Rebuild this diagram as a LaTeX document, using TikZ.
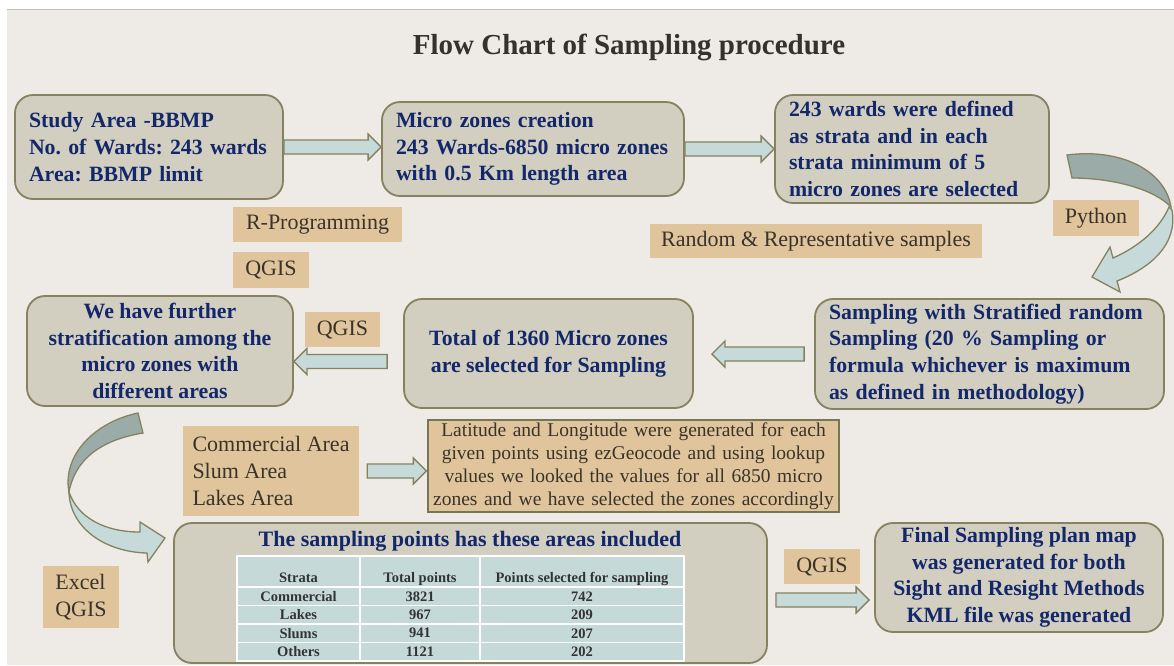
\documentclass[tikz,border=0pt]{standalone}
\usepackage{fontspec}
\setmainfont{Liberation Serif}
\frenchspacing
\usetikzlibrary{calc}
\definecolor{bgc}{HTML}{EEEBE6}
\definecolor{boxfill}{HTML}{D2CEC0}
\definecolor{boxline}{HTML}{858260}
\definecolor{navy}{HTML}{13286B}
\definecolor{tan}{HTML}{E0C59C}
\definecolor{tantext}{HTML}{3A332A}
\definecolor{arrowfill}{HTML}{C5DAD9}
\definecolor{arrowdark}{HTML}{9BACA8}
\definecolor{cellfill}{HTML}{C5D9D8}
\definecolor{titlec}{HTML}{35322B}
\newcommand{\fatarrow}[2]{%
  \filldraw[blockarrow] let \p1=(#1), \p2=(#2), \n1={ifthenelse(\x2>\x1,13,-13)} in
    (\x1,\y1+7pt) -- ({\x2-(\n1)},\y1+7pt) -- ({\x2-(\n1)},\y1+13pt) -- (\x2,\y1)
    -- ({\x2-(\n1)},\y1-13pt) -- ({\x2-(\n1)},\y1-7pt) -- (\x1,\y1-7pt) -- cycle;}
\begin{document}
\begin{tikzpicture}[x=1pt,y=-1pt,
    procbox/.style={draw=boxline,fill=boxfill,line width=1.8pt,rounded corners=18pt,
      text=navy,font=\bfseries\fontsize{21.8}{26.6}\selectfont,inner ysep=0pt},
    toolbox/.style={fill=tan,text=tantext,font=\fontsize{22}{27}\selectfont,inner sep=0pt},
    blockarrow/.style={fill=arrowfill,draw=boxline,line width=1.3pt},
    curvedark/.style={fill=arrowdark,draw=boxline,line width=1.3pt},
    curvelight/.style={fill=arrowfill,draw=boxline,line width=1.3pt},
    cell/.style={fill=cellfill,draw=white,line width=1.5pt,inner sep=0pt,minimum height=18.5pt,
      text=black!80,font=\bfseries\fontsize{14.5}{16}\selectfont}]
    \useasboundingbox (0,0) rectangle (1174,665);
    \fill[white] (0,0) rectangle (1174,665);
    \fill[bgc] (7,9) rectangle (1174,665);
    \draw[black!25] (7,9) -- (1174,9);
    \node[font=\bfseries\fontsize{29}{34}\selectfont,text=titlec] (title) at (629,47) {Flow Chart of Sampling procedure};

    \node[procbox,align=left,text width=240pt,inner xsep=14pt,minimum height=104pt] (studyarea) at (149,147)
      {Study Area -BBMP\\No. of Wards: 243 wards\\Area: BBMP limit};
    \node[procbox,align=left,text width=274pt,inner xsep=14pt,minimum height=94pt] (microzones) at (533,149)
      {Micro zones creation\\243 Wards-6850 micro zones\\with 0.5 Km length area};
    \node[procbox,align=left,text width=246pt,inner xsep=14pt,minimum height=108pt] (strata) at (912,149)
      {243 wards were defined\\as strata and in each\\strata minimum of 5\\micro zones are selected};
    \node[procbox,align=left,text width=321pt,inner xsep=14pt,minimum height=110pt] (sampling) at (989.5,354)
      {Sampling with Stratified random\\Sampling (20 \% Sampling or\\formula whichever is maximum\\as defined in methodology)};
    \node[procbox,align=center,minimum width=289pt,minimum height=109pt] (total) at (548.5,353.5)
      {Total of 1360 Micro zones\\are selected for Sampling};
    \node[procbox,align=center,minimum width=266pt,minimum height=110pt] (further) at (160,351)
      {We have further\\stratification among the\\micro zones with\\different areas};
    \node[procbox,minimum width=593pt,minimum height=140pt] (points) at (470.5,593) {};
    \node[text=navy,font=\bfseries\fontsize{22}{26}\selectfont] (pointstitle) at (470,541)
      {The sampling points has these areas included};
    \node[procbox,align=center,minimum width=288pt,minimum height=109pt] (final) at (1019,577.5)
      {Final Sampling plan map\\was generated for both\\Sight and Resight Methods\\KML file was generated};

    \node[toolbox,minimum width=169pt,minimum height=35pt] (rprog) at (317.5,224.5) {R-Programming};
    \node[toolbox,minimum width=76pt,minimum height=36pt] (qgisa) at (271,270) {QGIS};
    \node[toolbox,minimum width=332pt,minimum height=34pt] (random) at (816,241) {Random \& Representative samples};
    \node[toolbox,minimum width=86pt,minimum height=36pt] (python) at (1096,218) {Python};
    \node[toolbox,minimum width=75pt,minimum height=35pt] (qgisb) at (342.5,329.5) {QGIS};
    \node[toolbox,align=left,minimum width=176pt,minimum height=90pt] (areas) at (271,471)
      {Commercial Area\\Slum Area\\Lakes Area};
    \node[toolbox,align=left,minimum width=76pt,minimum height=62pt] (excel) at (81,597)
      {Excel\\QGIS};
    \node[toolbox,minimum width=76pt,minimum height=35pt] (qgisc) at (822,566.5) {QGIS};
    \node[fill=tan,draw=boxline!90!black,line width=1.3pt,text=tantext,align=center,inner xsep=0pt,
      text width=411pt,inner ysep=0pt,minimum height=92pt,font=\fontsize{19.5}{23}\selectfont] (latlong) at (633.5,466)
      {Latitude and Longitude were generated for each\\given points using ezGeocode and using lookup\\values we looked the values for all 6850 micro\\zones and we have selected the zones accordingly};

    \node[cell,minimum width=123pt,minimum height=31pt,text height=24pt,text depth=3pt] (hs) at (298.5,571.5) {Strata};
    \node[cell,minimum width=120pt,minimum height=31pt,text height=24pt,text depth=3pt] (ht) at (420,571.5) {Total points};
    \node[cell,minimum width=204pt,minimum height=31pt,text height=24pt,text depth=3pt] (hp) at (582,571.5) {Points selected for sampling};
    \foreach \s/\t/\p [count=\i] in {Commercial/3821/742,Lakes/967/209,Slums/941/207,Others/1121/202}{
      \node[cell,minimum width=123pt] (s\i) at (298.5,{577.75+18.5*\i}) {\s};
      \node[cell,minimum width=120pt] (t\i) at (420,{577.75+18.5*\i}) {\t};
      \node[cell,minimum width=204pt] (p\i) at (582,{577.75+18.5*\i}) {\p};
    }

    \fatarrow{studyarea.east}{microzones.west}
    \fatarrow{microzones.east}{strata.west}
    \fatarrow{[xshift=-10pt]sampling.west}{[xshift=18pt]total.east}
    \fatarrow{[xshift=-16pt,yshift=-8pt]total.west}{further.east}
    \fatarrow{[xshift=8pt]areas.east}{[xshift=-1pt]latlong.west}
    \fatarrow{[xshift=8pt,yshift=-7pt]points.east}{[xshift=-5pt]final.west}

    \filldraw[curvedark] (1067,155) .. controls (1120,148) and (1165,170) .. (1171,207)
      .. controls (1155,190) and (1115,178) .. (1072,178) -- cycle;
    \filldraw[curvelight] (1169,207) .. controls (1160,228) and (1140,246) .. (1113,258)
      -- (1110,247) -- (1092,277) -- (1120,292) -- (1117,281)
      .. controls (1150,268) and (1178,245) .. (1172,210) -- cycle;
    \filldraw[curvedark] (138,413) .. controls (95,422) and (62,455) .. (69,492)
      .. controls (75,460) and (100,440) .. (143,433) -- cycle;
    \filldraw[curvelight] (69,492) .. controls (78,518) and (105,532) .. (140,532)
      -- (140,522) -- (165,538) -- (148,562) -- (147,553)
      .. controls (105,552) and (70,528) .. (69,492) -- cycle;
\end{tikzpicture}
\end{document}
